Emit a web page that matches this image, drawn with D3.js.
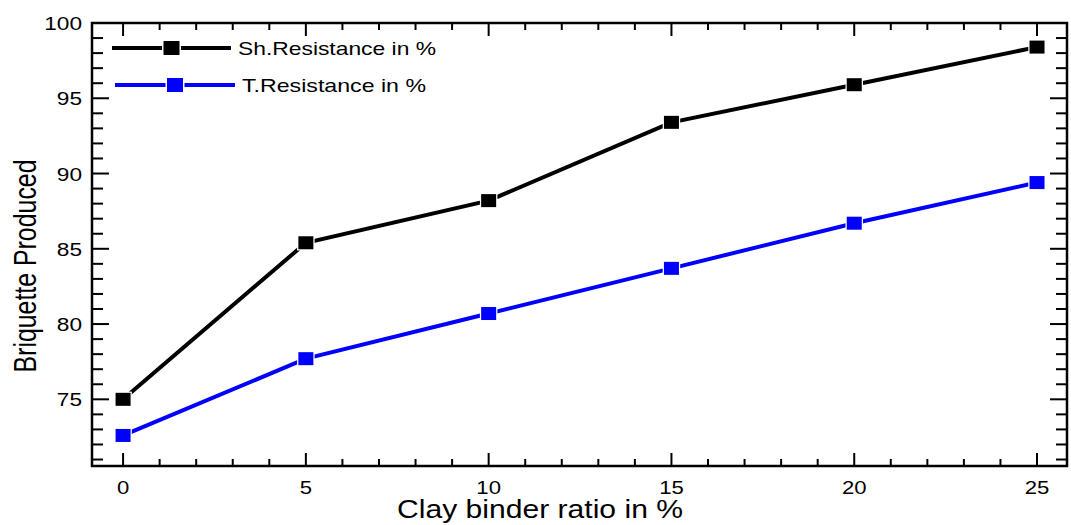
<!DOCTYPE html>
<html>
<head>
<meta charset="utf-8">
<script src="https://cdn.jsdelivr.net/npm/d3@7"></script>
<style>
  body { margin: 0; background: #fff; }
  text { font-family: "Liberation Sans", Arial, sans-serif; }
</style>
</head>
<body>
<script>
// data
var binder = [0, 5, 10, 15, 20, 25]
var shear = [75.0, 85.4, 88.2, 93.4, 95.9, 98.4]
var tumble = [72.6, 77.7, 80.7, 83.7, 86.7, 89.4]
var xTicks = [0, 5, 10, 15, 20, 25]
var yTicks = [75, 80, 85, 90, 95, 100]
var seriesNames = ["Sh.Resistance in %", "T.Resistance in %"]
var seriesColors = ["#000000", "#0000ff"]

var W = 1071, H = 525
var pLeft = 92, pRight = 1067, pTop = 23, pBottom = 466

var svg = d3.select("body").append("svg")
  .attr("width", W).attr("height", H)

var x = d3.scaleLinear().domain([-0.85, 25.82]).range([pLeft, pRight])
var y = d3.scaleLinear().domain([70.57, 100]).range([pBottom, pTop])

var minorX = d3.range(0, 26, 1)
var minorY = d3.range(71, 101, 1)

// frame
svg.append("rect")
  .attr("x", pLeft).attr("y", pTop)
  .attr("width", pRight - pLeft).attr("height", pBottom - pTop)
  .attr("fill", "none").attr("stroke", "#000").attr("stroke-width", 2.5)

// ticks, all pointing inside
function isMajor(v, list) { return list.indexOf(v) >= 0 }

var tk = svg.append("g").attr("stroke", "#000").attr("stroke-width", 2)
minorX.forEach(function (v) {
  var len = isMajor(v, xTicks) ? 13 : 7
  tk.append("line").attr("x1", x(v)).attr("x2", x(v)).attr("y1", pBottom).attr("y2", pBottom - len)
  tk.append("line").attr("x1", x(v)).attr("x2", x(v)).attr("y1", pTop).attr("y2", pTop + len)
})
minorY.forEach(function (v) {
  var len = isMajor(v, yTicks) ? 17 : 11
  tk.append("line").attr("y1", y(v)).attr("y2", y(v)).attr("x1", pLeft).attr("x2", pLeft + len)
  tk.append("line").attr("y1", y(v)).attr("y2", y(v)).attr("x1", pRight).attr("x2", pRight - len)
})

// tick labels (the original font is a bit wide, hence textLength)
svg.append("g").selectAll("text").data(xTicks).enter().append("text")
  .attr("x", function (d) { return x(d) }).attr("y", pBottom + 28)
  .attr("text-anchor", "middle").attr("font-size", 19)
  .attr("textLength", function (d) { return String(d).length * 12.3 })
  .attr("lengthAdjust", "spacingAndGlyphs")
  .text(function (d) { return d })

svg.append("g").selectAll("text").data(yTicks).enter().append("text")
  .attr("x", pLeft - 10).attr("y", function (d) { return y(d) + 7 })
  .attr("text-anchor", "end").attr("font-size", 19)
  .attr("textLength", function (d) { return String(d).length * 12.6 })
  .attr("lengthAdjust", "spacingAndGlyphs")
  .text(function (d) { return d })

// axis titles
svg.append("text")
  .attr("x", 540).attr("y", 518)
  .attr("text-anchor", "middle").attr("font-size", 25)
  .attr("textLength", 286).attr("lengthAdjust", "spacingAndGlyphs")
  .text("Clay binder ratio in %")

svg.append("text")
  .attr("transform", "translate(36,266) rotate(-90)")
  .attr("text-anchor", "middle").attr("font-size", 31)
  .attr("textLength", 213).attr("lengthAdjust", "spacingAndGlyphs")
  .text("Briquette Produced")

// series
var line = d3.line()
  .x(function (d, i) { return x(binder[i]) })
  .y(function (d) { return y(d) })

var all = [shear, tumble]
all.forEach(function (vals, s) {
  svg.append("path").datum(vals)
    .attr("d", line)
    .attr("fill", "none").attr("stroke", seriesColors[s]).attr("stroke-width", 4)

  svg.append("g").selectAll("rect").data(vals).enter().append("rect")
    .attr("x", function (d, i) { return x(binder[i]) - 7.5 })
    .attr("y", function (d) { return y(d) - 6.5 })
    .attr("width", 15).attr("height", 13)
    .attr("fill", seriesColors[s])
    .attr("stroke", "#fff").attr("stroke-width", 2.5)
    .attr("paint-order", "stroke")
})

// legend
var lg = svg.append("g")
var legendY = [48, 85]
var legendX = [[112, 231], [115, 235]]
var legendLen = [198, 184]
seriesNames.forEach(function (name, s) {
  var x0 = legendX[s][0], x1 = legendX[s][1], cx = (x0 + x1) / 2
  lg.append("line").attr("x1", x0).attr("x2", x1)
    .attr("y1", legendY[s]).attr("y2", legendY[s])
    .attr("stroke", seriesColors[s]).attr("stroke-width", 4)
  lg.append("rect").attr("x", cx - 8).attr("y", legendY[s] - 7)
    .attr("width", 16).attr("height", 14)
    .attr("fill", seriesColors[s])
    .attr("stroke", "#fff").attr("stroke-width", 3).attr("paint-order", "stroke")
  lg.append("text").attr("x", x1 + 7).attr("y", legendY[s] + 7)
    .attr("font-size", 19)
    .attr("textLength", legendLen[s]).attr("lengthAdjust", "spacingAndGlyphs")
    .text(name)
})
</script>
</body>
</html>
